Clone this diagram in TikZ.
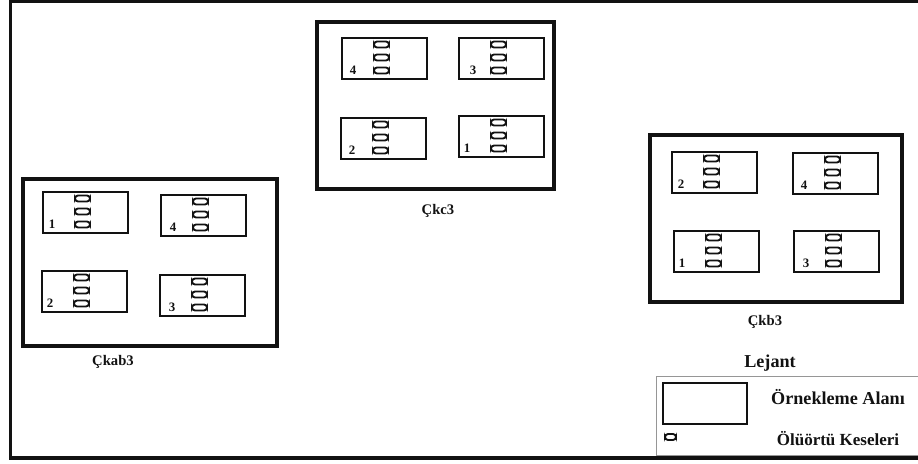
\documentclass[tikz,border=0pt]{standalone}
\usepackage{fontspec}
\setmainfont{Liberation Serif}
\definecolor{ink}{RGB}{18,18,18}
\definecolor{legline}{RGB}{150,150,150}
\newcommand{\plotbox}[5]{%
  \begin{scope}[shift={(#1,#2)}]
    \draw[plotline] (0,0) rectangle (85,41);
    \foreach \b in {6.5,19.5,32.5}{
      \draw[bagline] (32,\b-3) rectangle (47,\b+3);
    }
    \node[numlbl] (#5) at (#4,32) {#3};
  \end{scope}}

\begin{document}
\begin{tikzpicture}[x=0.03cm,y=-0.03cm,
    frameline/.style={ink,line width=3.4pt},
    siteline/.style={ink,line width=2.6pt},
    plotline/.style={ink,line width=1.7pt},
    bagline/.style={ink,line width=1.6pt,rounded corners=2.6pt},
    numlbl/.style={text=ink,font=\bfseries\fontsize{11}{12}\selectfont,inner sep=0pt},
    sitelbl/.style={text=ink,font=\bfseries\fontsize{12.5}{14}\selectfont,inner sep=0pt},
    leglbl/.style={text=ink,font=\bfseries\fontsize{15.5}{17}\selectfont,inner sep=0pt}]
  \useasboundingbox (0,0) rectangle (918,463);
  % outer frame (right side runs off the page)
  \draw[frameline] (935,1.5) -- (10.5,1.5) -- (10.5,458) -- (935,458);
  % site Ckab3
  \draw[siteline] (23,179) rectangle (277,346);
  \plotbox{43}{192}{1}{9}{ab1}
  \plotbox{161}{195}{4}{12}{ab4}
  \plotbox{42}{271}{2}{8}{ab2}
  \plotbox{160}{275}{3}{12}{ab3}
  \node[sitelbl] (labab) at (113,362) {Çkab3};
  % site Ckc3
  \draw[siteline] (317,22) rectangle (554,189);
  \plotbox{342}{38}{4}{11}{c4}
  \plotbox{459}{38}{3}{14}{c3}
  \plotbox{341}{118}{2}{11}{c2}
  \plotbox{459}{116}{1}{8}{c1}
  \node[sitelbl] (labc) at (438,211) {Çkc3};
  % site Ckb3
  \draw[siteline] (650,135) rectangle (902,302);
  \plotbox{672}{152}{2}{9}{b2}
  \plotbox{793}{153}{4}{11}{b4}
  \plotbox{674}{231}{1}{8}{b1}
  \plotbox{794}{231}{3}{12}{b3}
  \node[sitelbl] (labb) at (765,322) {Çkb3};
  % legend
  \node[leglbl] (lejant) at (770,363) {Lejant};
  \draw[legline,line width=0.8pt] (930,376) -- (656,376) -- (656,455) -- (930,455);
  \draw[plotline] (663,383) rectangle (747,424);
  \node[leglbl] (alan) at (838,397) {Örnekleme Alanı};
  \draw[bagline] (665,434) rectangle (676,440);
  \node[leglbl,font=\bfseries\fontsize{14.5}{16}\selectfont] (kese) at (838,439) {Ölüörtü Keseleri};
\end{tikzpicture}
\end{document}
